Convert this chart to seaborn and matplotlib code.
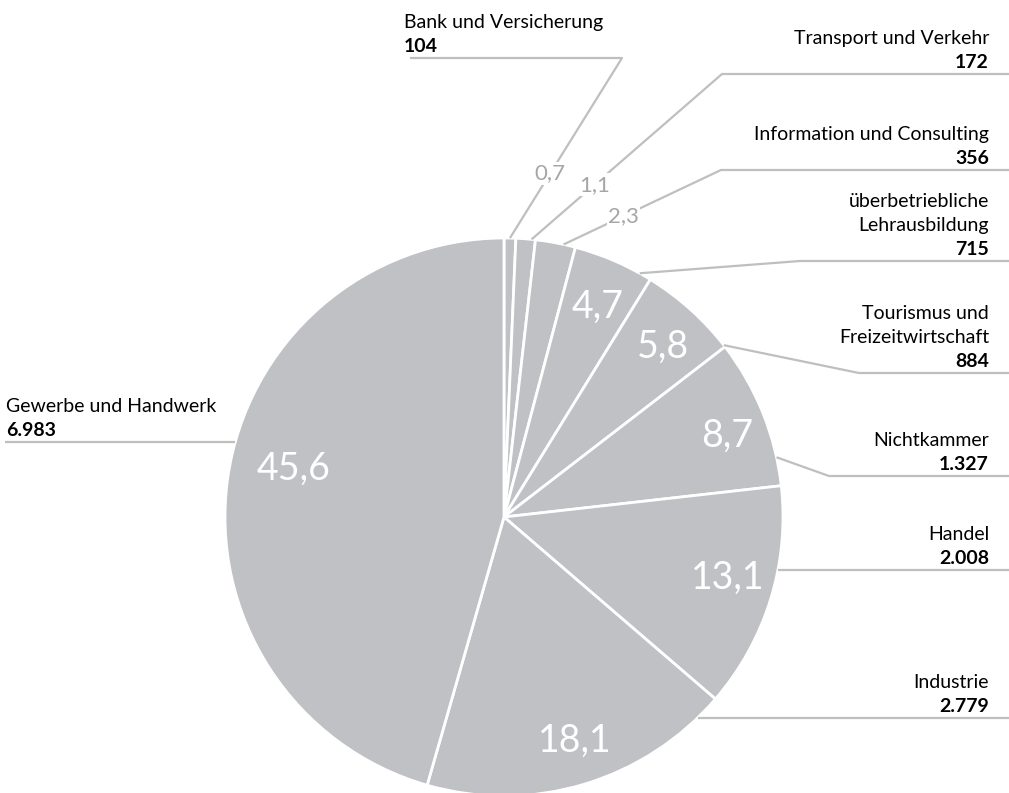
import matplotlib
matplotlib.use("Agg")
import matplotlib.pyplot as plt
import seaborn as sns
import numpy as np

# Ausbildungsbetriebe nach Sparte (Anzahl)
sectors = ["Bank und Versicherung", "Transport und Verkehr", "Information und Consulting",
           "überbetriebliche\nLehrausbildung", "Tourismus und\nFreizeitwirtschaft", "Nichtkammer",
           "Handel", "Industrie", "Gewerbe und Handwerk"]
counts = [104, 172, 356, 715, 884, 1327, 2008, 2779, 6983]

# layout (pixel coordinates, y downwards)
W, H = 1009, 793
cx, cy, R = 504, 517, 279
anchor_frac = [0.5, 0.8, 0.7, 0.85, 0.98, 0.81, 0.37, 0.08, 0.546]
elbows = [(622, 58), (722, 74), (721, 170), (800, 261), (859, 373), (829, 476), None, None, None]
line_end_x = [410, 1009, 1009, 1009, 1009, 1009, 1009, 1009, 5]
text_x = [404, 989, 989, 989, 989, 989, 989, 989, 6]
inside_r = [None, None, None, 0.824, 0.836, 0.85, 0.83, 0.84, 0.775]
inside_off = [0, 0, 0, 0.7, 1, 2, -2, -1, 5]
outside_t = [0.36, 0.33, 0.38]

sns.set_theme(style="white")
plt.rcParams["font.family"] = ["Lato", "DejaVu Sans"]

fig = plt.figure(figsize=(W / 100, H / 100), dpi=100)
ax = fig.add_axes([0, 0, 1, 1])

wedges, _ = ax.pie(counts, center=(cx, cy), radius=R, startangle=-90, counterclock=True,
                   colors=["#bfc1c5"] * len(counts),
                   wedgeprops=dict(edgecolor="white", linewidth=2))
ax.set_xlim(0, W)
ax.set_ylim(H, 0)
ax.set_aspect("equal")
ax.axis("off")

total = sum(counts)
line_kw = dict(color="#bfbfbf", lw=1.6, solid_capstyle="butt", zorder=1)

for i, w in enumerate(wedges):
    share = f"{100 * counts[i] / total:.1f}".replace(".", ",")
    value = f"{counts[i]:,}".replace(",", ".")
    t1, t2 = w.theta1, w.theta2
    a = np.radians(t1 + (t2 - t1) * anchor_frac[i])
    sx, sy = cx + R * np.cos(a), cy + R * np.sin(a)
    if elbows[i] is not None:
        ex, ey = elbows[i]
        ax.plot([sx, ex, line_end_x[i]], [sy, ey, ey], **line_kw)
    else:
        ey = sy
        ax.plot([sx, line_end_x[i]], [ey, ey], **line_kw)

    ha = "left" if text_x[i] < cx else "right"
    ax.text(text_x[i], ey - 6, value, ha=ha, va="baseline", fontsize=14,
            fontweight="bold", color="black")
    for k, part in enumerate(reversed(sectors[i].split("\n"))):
        ax.text(text_x[i], ey - 30 - 24 * k, part, ha=ha, va="baseline",
                fontsize=14, color="black")

    if inside_r[i] is not None:
        m = np.radians((t1 + t2) / 2 + inside_off[i])
        ax.text(cx + inside_r[i] * R * np.cos(m), cy + inside_r[i] * R * np.sin(m), share,
                ha="center", va="center", fontsize=27, color="white")
    else:
        t = outside_t[i]
        px, py = sx + (ex - sx) * t, sy + (ey - sy) * t
        ax.text(px, py, share, ha="center", va="center", fontsize=16, color="#a6a6a6",
                bbox=dict(facecolor="white", edgecolor="none", pad=1), zorder=3)

fig.savefig("out.png", dpi=100)
